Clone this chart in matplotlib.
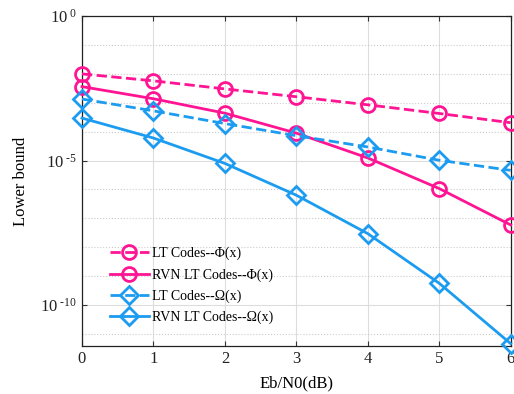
import numpy as np
import matplotlib
matplotlib.use('Agg')
import matplotlib.pyplot as plt
from matplotlib.ticker import FixedLocator, NullFormatter

plt.rcParams['font.family'] = ['Liberation Serif', 'DejaVu Serif']
plt.rcParams['mathtext.fontset'] = 'custom'
plt.rcParams['mathtext.rm'] = 'Liberation Serif'
plt.rcParams['mathtext.it'] = 'Liberation Serif:italic'

# Eb/N0 values (dB)
ebn0 = [0, 1, 2, 3, 4, 5, 6]

# log10 of lower bound
lt_phi = [-2.00, -2.24, -2.52, -2.79, -3.07, -3.37, -3.69]
rvn_phi = [-2.44, -2.86, -3.36, -4.05, -4.91, -5.97, -7.23]
lt_omega = [-2.87, -3.28, -3.72, -4.14, -4.53, -4.99, -5.34]
rvn_omega = [-3.53, -4.22, -5.10, -6.20, -7.53, -9.25, -11.34]

labels = ['LT Codes--\u03a6(x)', 'RVN LT Codes--\u03a6(x)',
          'LT Codes--\u03a9(x)', 'RVN LT Codes--\u03a9(x)']

pink = '#ff1493'
blue = '#1c9cf0'

fig = plt.figure(figsize=(5.14, 3.94), dpi=100)
ax = fig.add_axes([0.1595, 0.122, 0.834, 0.837])

series = [(lt_phi, pink, '--', 'o'), (rvn_phi, pink, '-', 'o'),
          (lt_omega, blue, '--', 'D'), (rvn_omega, blue, '-', 'D')]
for (vals, c, ls, m), lab in zip(series, labels):
    ax.semilogy(ebn0, 10.0 ** np.array(vals), color=c, linestyle=ls, linewidth=2,
                marker=m, markersize=10 if m == 'o' else 9, markerfacecolor='none',
                markeredgewidth=2, label=lab, clip_on=False, zorder=3)

ax.set_xlim(0, 6)
ax.set_ylim(10 ** -11.42, 1)
ax.set_xticks(range(7))
ax.yaxis.set_major_locator(FixedLocator([1e-10, 1e-5, 1e0]))
ax.set_yticklabels([r'$10^{\ \text{-10}}$', r'$10^{\ \text{-5}}$', r'$10^{\ 0}$'])
ax.yaxis.set_minor_locator(FixedLocator([10.0 ** k for k in range(-11, 0) if k not in (-10, -5)]))
ax.yaxis.set_minor_formatter(NullFormatter())

ax.grid(True, which='major', color='#dddddd', linewidth=0.8)
ax.grid(True, which='minor', axis='y', color='#cccccc', linestyle=':', linewidth=0.8)
ax.set_axisbelow(True)

ax.tick_params(which='both', direction='in', top=True, right=True, labelsize=12, colors='#333333',
               labelcolor='#222222')
ax.tick_params(which='minor', length=0)
for s in ax.spines.values():
    s.set_color('#222222')
    s.set_linewidth(0.9)

ax.set_xlabel('Eb/N0(dB)', fontsize=12, labelpad=6)
ax.set_ylabel('Lower bound', fontsize=12, labelpad=8)

ax.legend(loc='upper left', bbox_to_anchor=(0.065, 0.30), frameon=False, fontsize=10,
          borderpad=0, borderaxespad=0, handlelength=2.8, handletextpad=0.2,
          labelspacing=0.55)

fig.savefig('out.png', dpi=100)
